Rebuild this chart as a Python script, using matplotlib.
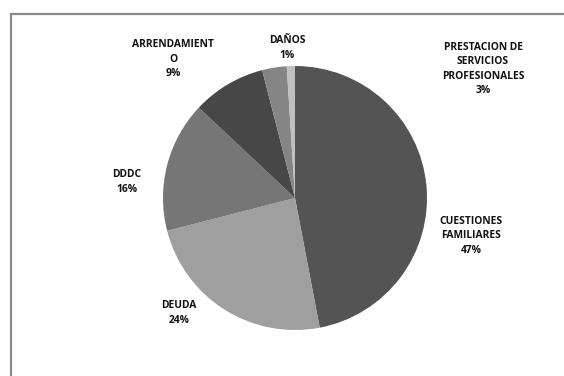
import matplotlib
matplotlib.use("Agg")
import matplotlib.pyplot as plt
from matplotlib.lines import Line2D

# data
categorias = ["CUESTIONES\nFAMILIARES", "DEUDA", "DDDC", "ARRENDAMIENT\nO",
              "PRESTACION DE\nSERVICIOS\nPROFESIONALES", "DAÑOS"]
valores = [47, 24, 16, 9, 3, 1]

# styles / layout
COLORES = ["#545454", "#9f9f9f", "#767676", "#474747", "#858585", "#bfbfbf"]
# label centres in pixel coords (x, y from top)
POS_ETIQ = [(471, 236), (179, 313), (127, 182), (173, 59), (483, 69), (287, 48)]

W, H = 564, 376
fig = plt.figure(figsize=(W / 100, H / 100), dpi=100)
ax = fig.add_axes([0, 0, 1, 1])

cx, cy, r = 295, 198, 132
ax.pie(valores, colors=COLORES, startangle=90, counterclock=False,
       center=(cx, H - cy), radius=r, wedgeprops=dict(linewidth=0))
ax.set_xlim(0, W)
ax.set_ylim(0, H)
ax.set_aspect("equal")
ax.axis("off")

for cat, v, (x, y) in zip(categorias, valores, POS_ETIQ):
    ax.text(x, H - y, f"{cat}\n{v}%", ha="center", va="center",
            fontsize=7.4, fontweight="bold", family="Open Sans",
            color="#111111", linespacing=1.45)

# chart frame (only top and left edges visible in the crop)
fig.add_artist(Line2D([11 / W, 1.01], [1 - 14 / H, 1 - 14 / H], transform=fig.transFigure,
                      color="#8a8a8a", lw=1.6))
fig.add_artist(Line2D([11 / W, 11 / W], [-0.01, 1 - 14 / H], transform=fig.transFigure,
                      color="#8a8a8a", lw=1.6))

fig.savefig("out.png", dpi=100)
